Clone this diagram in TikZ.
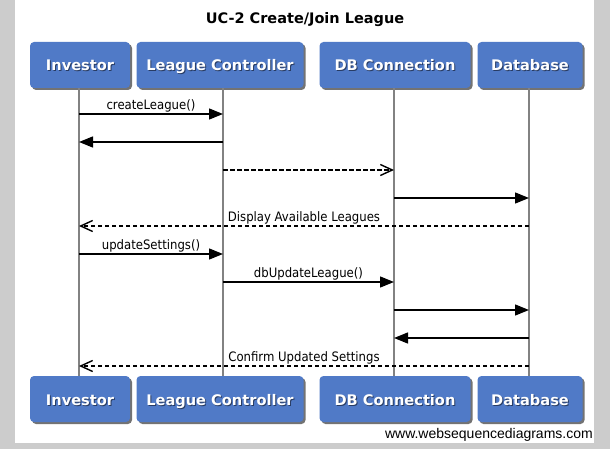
\documentclass[tikz,border=0pt]{standalone}
\usepackage{fontspec}
\setmainfont{DejaVu Sans}
\newfontfamily\msgfont{DejaVu Sans Condensed}
\newfontfamily\webfont{Liberation Sans}
\usetikzlibrary{arrows.meta,shadows}
\definecolor{bggray}{RGB}{204,204,204}
\definecolor{boxblue}{RGB}{80,122,199}
\definecolor{shadtext}{RGB}{40,60,100}
\definecolor{lifegray}{RGB}{130,130,130}
\newcommand\shtxt[1]{\rlap{\hspace{1pt}\raisebox{-1pt}{\textcolor{shadtext}{#1}}}#1}
\tikzset{
  actor/.style={draw=none, fill=boxblue, rounded corners=4pt, minimum height=46pt,
    text=white, font=\bfseries\fontsize{14.6}{16}\selectfont, inner sep=0pt,
    text height=13pt, text depth=1pt,
    drop shadow={shadow xshift=2pt, shadow yshift=-2pt, opacity=0.55, fill=black}},
  life/.style={draw=lifegray, line width=1.4pt},
  msg/.style={draw=black, line width=1.4pt, -{Triangle[length=14pt,width=11pt]}},
  reply/.style={draw=black, line width=1.4pt, dash pattern=on 4.5pt off 2.5pt, -{Straight Barb[length=12pt,width=11pt,line width=1.4pt]}},
  lbl/.style={font=\msgfont\fontsize{13}{15}\selectfont, inner sep=1pt, anchor=south}
}
\begin{document}
\begin{tikzpicture}[x=1pt,y=-1pt]
\useasboundingbox (0,0) rectangle (610,449);
\fill[bggray] (0,0) rectangle (610,449);
\fill[white] (15,0) rectangle (594,443);
\node[font=\bfseries\fontsize{14.5}{16}\selectfont] (title) at (305,20) {UC-2 Create/Join League};
% top actors
\node[actor, minimum width=100pt] (invT) at (80,65) {\shtxt{Investor}};
\node[actor, minimum width=167pt] (lcT) at (220,65) {\shtxt{League Controller}};
\node[actor, minimum width=151pt] (dbcT) at (395,65) {\shtxt{DB Connection}};
\node[actor, minimum width=105pt] (dbT) at (530,65) {\shtxt{Database}};
% bottom actors
\node[actor, minimum width=100pt] (invB) at (80,399) {\shtxt{Investor}};
\node[actor, minimum width=167pt] (lcB) at (220,399) {\shtxt{League Controller}};
\node[actor, minimum width=151pt] (dbcB) at (395,399) {\shtxt{DB Connection}};
\node[actor, minimum width=105pt] (dbB) at (530,399) {\shtxt{Database}};
% lifelines
\coordinate (li) at (79,0);
\coordinate (ll) at (223,0);
\coordinate (lc) at (394,0);
\coordinate (ld) at (529,0);
\draw[life] (li |- invT.south) -- (li |- invB.north);
\draw[life] (ll |- lcT.south) -- (ll |- lcB.north);
\draw[life] (lc |- dbcT.south) -- (lc |- dbcB.north);
\draw[life] (ld |- dbT.south) -- (ld |- dbB.north);
% messages
\draw[msg] (li |- 0,114) -- node[lbl] {createLeague()} (ll |- 0,114);
\draw[msg] (ll |- 0,142) -- (li |- 0,142);
\draw[reply] (ll |- 0,170) -- (lc |- 0,170);
\draw[msg] (lc |- 0,198) -- (ld |- 0,198);
\draw[reply] (ld |- 0,226) -- node[lbl] {Display Available Leagues} (li |- 0,226);
\draw[msg] (li |- 0,254) -- node[lbl] {updateSettings()} (ll |- 0,254);
\draw[msg] (ll |- 0,282) -- node[lbl] {dbUpdateLeague()} (lc |- 0,282);
\draw[msg] (lc |- 0,310) -- (ld |- 0,310);
\draw[msg] (ld |- 0,338) -- (lc |- 0,338);
\draw[reply] (ld |- 0,366) -- node[lbl] {Confirm Updated Settings} (li |- 0,366);
\node[font=\webfont\fontsize{14}{16}\selectfont, anchor=east, inner sep=0pt] (web) at (593,435) {www.websequencediagrams.com};
\end{tikzpicture}
\end{document}
